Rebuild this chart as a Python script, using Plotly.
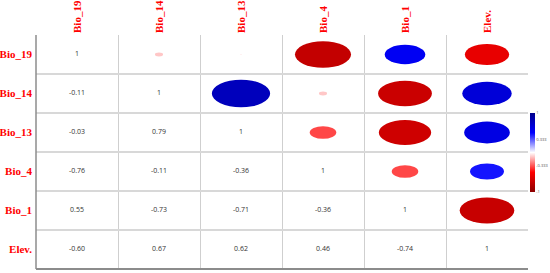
import plotly.graph_objects as go

# correlation matrix (lower triangle shown as numbers, upper as ellipses)
labels = ["Bio_19", "Bio_14", "Bio_13", "Bio_4", "Bio_1", "Elev."]
corr = [
    [1.00, -0.11, -0.03, -0.76, 0.55, -0.60],
    [-0.11, 1.00, 0.79, -0.11, -0.73, 0.67],
    [-0.03, 0.79, 1.00, -0.36, -0.71, 0.62],
    [-0.76, -0.11, -0.36, 1.00, -0.36, 0.46],
    [0.55, -0.73, -0.71, -0.36, 1.00, -0.74],
    [-0.60, 0.67, 0.62, 0.46, -0.74, 1.00],
]
cbar_ticks = [1, 0.333, -0.333, -1]

scale_pts = [(-1, (139, 0, 0)), (-0.5, (255, 0, 0)), (0, (255, 255, 255)),
             (0.5, (0, 0, 255)), (1, (0, 0, 139))]


def rgb_for(v):
    for (a, ca), (b, cb) in zip(scale_pts[:-1], scale_pts[1:]):
        if a <= v <= b:
            t = (v - a) / (b - a)
            c = [round(ca[i] + t * (cb[i] - ca[i])) for i in range(3)]
            return f"rgb({c[0]},{c[1]},{c[2]})"
    return "rgb(255,255,255)"


colorscale = [[(p + 1) / 2, f"rgb{c}"] for p, c in scale_pts]
n = len(labels)
centers = [i + 0.5 for i in range(n)]

fig = go.Figure()

# numbers on lower triangle + diagonal
tx, ty, tt = [], [], []
for r in range(n):
    for c in range(r + 1):
        tx.append(centers[c])
        ty.append(centers[r])
        tt.append("1" if r == c else f"{corr[r][c]:.2f}")
fig.add_trace(go.Scatter(
    x=tx, y=ty, text=tt, mode="text",
    textfont=dict(family="Open Sans, Arial", size=7, color="#333333"),
    hoverinfo="skip", showlegend=False,
))

# ellipses on upper triangle
shapes = []
for r in range(n):
    for c in range(r + 1, n):
        v = corr[r][c]
        half = 0.45 * abs(v)
        shapes.append(dict(
            type="circle", xref="x", yref="y",
            x0=centers[c] - half, x1=centers[c] + half,
            y0=centers[r] - half, y1=centers[r] + half,
            fillcolor=rgb_for(v), line=dict(width=0), layer="above",
        ))

# invisible trace only for the colour bar
fig.add_trace(go.Scatter(
    x=[0.5, 0.5], y=[0.5, 0.5], mode="markers",
    marker=dict(color=[-1, 1], colorscale=colorscale, cmin=-1, cmax=1,
                opacity=0, size=1, showscale=True,
                colorbar=dict(
                    x=1.004, xanchor="left", y=0.498, yanchor="middle",
                    len=0.338, thickness=5, outlinewidth=0,
                    tickvals=cbar_ticks, ticktext=["1", "0.333", "-0.333", "-1"],
                    ticks="", tickfont=dict(size=4, color="#555555"),
                    xpad=0, ypad=0,
                )),
    hoverinfo="skip", showlegend=False,
))

label_font = dict(family="Liberation Serif, Times New Roman", size=11, color="#ff0000")

fig.update_layout(
    width=550, height=273,
    margin=dict(l=36, r=22, t=35, b=4, autoexpand=False),
    paper_bgcolor="white", plot_bgcolor="white",
    shapes=shapes,
    xaxis=dict(
        range=[0, n], side="top", tickvals=centers, automargin=False,
        ticktext=[f"<b>{s}</b>" for s in labels], tickangle=-90,
        tickfont=label_font,
        showgrid=False, zeroline=False, ticks="", ticklabelstandoff=1,
        minor=dict(tickvals=list(range(1, n + 1)), showgrid=True,
                   gridcolor="#cfcfcf", gridwidth=1),
        fixedrange=True,
    ),
    yaxis=dict(
        range=[n, 0], tickvals=centers, automargin=False,
        ticktext=[f"<b>{s}</b>" for s in labels],
        tickfont=label_font,
        showgrid=False, zeroline=False, ticks="", ticklabelstandoff=3,
        minor=dict(tickvals=list(range(1, n)), showgrid=True,
                   gridcolor="#d8d8d8", gridwidth=2),
        fixedrange=True,
    ),
)

# axis frame lines (left and bottom)
fig.add_shape(type="line", xref="paper", yref="paper", x0=0, x1=0, y0=0, y1=1,
              line=dict(color="#8c8c8c", width=1.5))
fig.add_shape(type="line", xref="paper", yref="paper", x0=0, x1=1, y0=0, y1=0,
              line=dict(color="#8c8c8c", width=2))

# drop the default page margin so the 550x273 figure fills the window
fig.write_html("out.html", config={"displayModeBar": False},
               post_script="document.body.style.margin='0';")
